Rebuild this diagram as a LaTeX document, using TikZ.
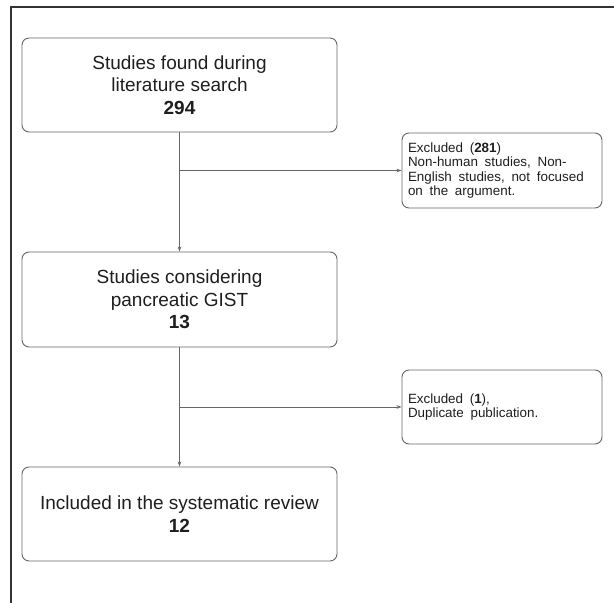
\documentclass[tikz,border=0pt]{standalone}
\usepackage{fontspec}
\setmainfont{Liberation Sans}
\usetikzlibrary{arrows.meta}
\definecolor{linegray}{HTML}{666666}
\definecolor{framegray}{HTML}{333333}
\definecolor{textdark}{HTML}{1E1E1E}
\newcommand\widesp{\spaceskip=0.5em plus 0.1em\relax\xspaceskip=0.5em\relax}
\tikzset{
  mainbox/.style={draw=linegray, line width=0.9pt, rounded corners=7pt,
    minimum width=315pt, align=center, text=textdark,
    font=\fontsize{19}{22.5}\selectfont},
  exclbox/.style={draw=linegray, line width=0.9pt, rounded corners=7pt,
    minimum width=200pt, text width=188pt, inner xsep=6pt, align=left, text=textdark,
    font=\fontsize{13.4}{14.2}\selectfont},
  arr/.style={draw=linegray, line width=0.9pt, -{Stealth[length=5pt,width=3.5pt]}}
}
\begin{document}
\begin{tikzpicture}[x=1pt,y=-1pt]
\useasboundingbox (0,0) rectangle (614,603);
% outer frame
\coordinate (fb) at (11,603);
\coordinate (ftl) at (11,7);
\coordinate (fr) at (614,7);
\draw[framegray, line width=1.2pt] (fb) -- (ftl) -- (fr);

\node[mainbox, minimum height=94pt] (b1) at (179.5,85)
  {Studies found during\\literature search\\\textbf{294}};
\node[exclbox, minimum height=75pt] (e1) at (502,170.5)
  {\widesp Excluded (\textbf{281})\\\widesp Non-human studies, Non-\\\widesp English studies, not focused\\\widesp on the argument.};
\node[mainbox, minimum height=95pt] (b2) at (179.5,299.5)
  {Studies considering\\pancreatic GIST\\\textbf{13}};
\node[exclbox, minimum height=74pt] (e2) at (502,407)
  {\widesp Excluded (\textbf{1}),\\\widesp Duplicate publication.};
\node[mainbox, minimum height=94pt] (b3) at (179.5,514)
  {Included in the systematic review\\\textbf{12}};

\draw[arr] (b1.south) -- (b2.north);
\draw[arr] (b1.south |- e1.west) -- (e1.west);
\draw[arr] (b2.south) -- (b3.north);
\draw[arr] (b2.south |- e2.west) -- (e2.west);
\end{tikzpicture}
\end{document}
